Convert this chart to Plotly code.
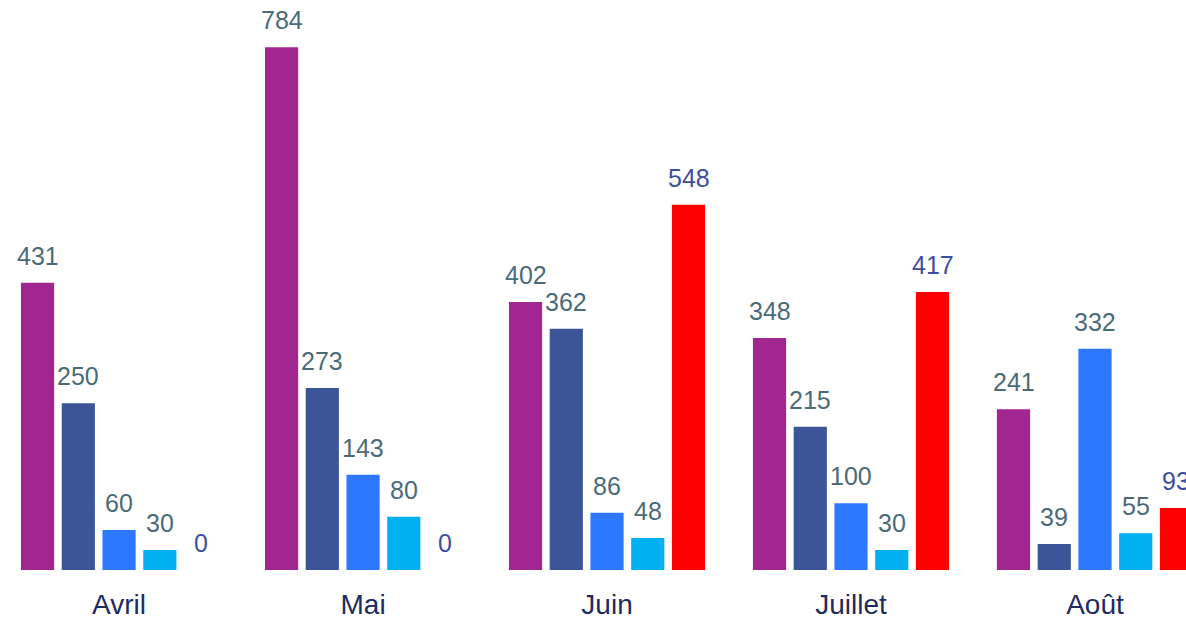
import plotly.graph_objects as go

months = ["Avril", "Mai", "Juin", "Juillet", "Août"]
series_names = ["Série 1", "Série 2", "Série 3", "Série 4", "Série 5"]
s1 = [431, 784, 402, 348, 241]
s2 = [250, 273, 362, 215, 39]
s3 = [60, 143, 86, 100, 332]
s4 = [30, 80, 48, 30, 55]
s5 = [0, 0, 548, 417, 93]

series = [s1, s2, s3, s4, s5]
colors = ["#A1268F", "#3C5599", "#2E78FF", "#00B0F0", "#FF0000"]
label_colors = ["#4B6B78", "#4B6B78", "#4B6B78", "#4B6B78", "#3E4E9E"]

pitch = 0.167
width = 0.136

fig = go.Figure()
annotations = []
for k, (name, vals) in enumerate(zip(series_names, series)):
    off = (k - 2) * pitch
    xs = [i + off for i in range(len(months))]
    fig.add_trace(go.Bar(x=xs, y=vals, width=width, name=name,
                         marker=dict(color=colors[k], line=dict(width=0)),
                         showlegend=False, hoverinfo="y"))
    for x, v in zip(xs, vals):
        annotations.append(dict(x=x, y=v, xref="x", yref="y", text=str(v),
                                showarrow=False, yanchor="bottom", yshift=11,
                                font=dict(size=25, color=label_colors[k],
                                          family="Liberation Sans, Arial, sans-serif")))

fig.update_layout(
    width=1186, height=621,
    margin=dict(l=0, r=0, t=0, b=51),
    paper_bgcolor="white", plot_bgcolor="white",
    annotations=annotations,
    font=dict(family="Liberation Sans, Arial, sans-serif"),
)
fig.update_xaxes(range=[-0.488, 4.373], tickvals=list(range(len(months))),
                 ticktext=months, showgrid=False, zeroline=False, showline=False,
                 automargin=False,
                 ticks="outside", ticklen=9, tickcolor="rgba(0,0,0,0)",
                 tickfont=dict(size=28, color="#1E2B5C"))
fig.update_yaxes(range=[0, 855], visible=False, showgrid=False, zeroline=False,
                 automargin=False)

fig.write_html("out.html", config={"displayModeBar": False},
               post_script="document.body.style.margin='0';document.body.style.overflow='hidden';")
